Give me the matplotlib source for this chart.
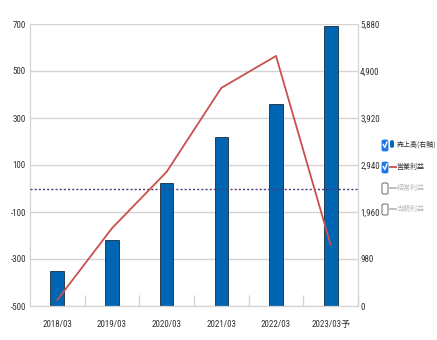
import matplotlib
matplotlib.use('Agg')
import matplotlib.pyplot as plt
from matplotlib.patches import FancyBboxPatch
from matplotlib.lines import Line2D
from matplotlib import font_manager

# Data
years = ['2018/03', '2019/03', '2020/03', '2021/03', '2022/03', '2023/03予']
sales = [740, 1380, 2570, 3520, 4210, 5840]          # 売上高 (right axis)
op_profit = [-474, -169, 71, 428, 564, -240]          # 営業利益 (left axis)

left_ticks = [-500, -300, -100, 100, 300, 500, 700]
right_ticks = [0, 980, 1960, 2940, 3920, 4900, 5880]

legend_items = ['売上高(右軸)', '営業利益', '経常利益', '当期利益']

# look for a narrow font for the numbers
num_font = 'DejaVu Sans'
stretch = 'normal'
for f in font_manager.fontManager.ttflist:
    if f.name in ('Liberation Sans Narrow', 'Roboto Condensed'):
        num_font, stretch = f.name, 'normal'
        break
    if f.name == 'DejaVu Sans' and 'ondensed' in str(f.stretch) + f.fname:
        stretch = 'condensed'

plt.rcParams['font.family'] = [num_font, 'Noto Sans CJK JP', 'DejaVu Sans']
plt.rcParams['font.stretch'] = stretch
plt.rcParams['axes.unicode_minus'] = False

bar_color = '#0066b3'
line_color = '#c9504f'
grid_color = '#d4d4d4'
text_color = '#333333'

fig = plt.figure(figsize=(4.37, 3.40), dpi=100)
ax = fig.add_axes([30 / 437, 34 / 340, 328 / 437, 282 / 340])
ax2 = ax.twinx()

x = list(range(len(years)))

# bars on right axis
ax2.bar(x, sales, width=0.25, color=bar_color, edgecolor='#1a2a3a', linewidth=0.6, zorder=2)
ax2.set_ylim(0, 5880)
ax2.set_yticks(right_ticks)
ax2.set_yticklabels([f'{v:,}' for v in right_ticks])

# left axis: zero line, profit line
ax.set_ylim(-500, 700)
ax.set_yticks(left_ticks)
ax.set_xlim(-0.5, len(years) - 0.5)
ax.set_xticks(x)
ax.set_xticklabels(years)
ax.set_xticks([i + 0.5 for i in range(len(years))], minor=True)

ax.set_zorder(ax2.get_zorder() + 1)
ax.patch.set_visible(False)

# grid lines behind the bars
for v in left_ticks:
    ax2.axhline((v + 500) / 1200 * 5880, color=grid_color, linewidth=1, zorder=0)

ax.axhline(0, color='#4b3b7a', linestyle=(0, (1.5, 1.5)), linewidth=1.0, zorder=3)
ax.plot(x, op_profit, color=line_color, linewidth=1.3, zorder=4)

for a in (ax, ax2):
    for s in a.spines.values():
        s.set_color(grid_color)
    a.spines['top'].set_visible(False)
    a.tick_params(axis='y', length=0, labelsize=6.5, colors=text_color)

ax.tick_params(axis='y', pad=3)
ax2.tick_params(axis='y', pad=1.5)
ax.tick_params(axis='x', which='major', length=0, labelsize=6.5, colors=text_color, pad=10)
ax.tick_params(axis='x', which='minor', length=8, direction='in', color=grid_color, width=1)

# legend with check boxes
ys = [145, 167, 188, 209]
checked = [True, True, False, False]
colors = [bar_color, line_color, '#bbbbbb', '#bbbbbb']
W, H = 437, 340
for i, (label, y) in enumerate(zip(legend_items, ys)):
    fy = 1 - y / H
    if checked[i]:
        fig.patches.append(FancyBboxPatch((382 / W, fy - 6 / H), 6 / W, 11 / H,
                                          boxstyle='round,pad=0,rounding_size=0.004',
                                          transform=fig.transFigure, facecolor='#1f77e8',
                                          edgecolor='#1f77e8', linewidth=0.6))
        fig.lines.append(Line2D([383.2 / W, 384.8 / W, 387 / W],
                                [fy + 0.5 / H, fy - 2.5 / H, fy + 3 / H],
                                transform=fig.transFigure, color='white', linewidth=1.0))
    else:
        fig.patches.append(FancyBboxPatch((382 / W, fy - 6 / H), 6 / W, 11 / H,
                                          boxstyle='round,pad=0,rounding_size=0.004',
                                          transform=fig.transFigure, facecolor='white',
                                          edgecolor='#666666', linewidth=0.7))
    if i == 0:
        fig.patches.append(FancyBboxPatch((390 / W, fy - 3 / H), 4 / W, 8 / H,
                                          boxstyle='round,pad=0,rounding_size=0.006',
                                          transform=fig.transFigure, facecolor=bar_color,
                                          edgecolor='none'))
    else:
        fig.lines.append(Line2D([389.5 / W, 395.5 / W], [fy, fy], transform=fig.transFigure,
                                color=colors[i], linewidth=1.3))
    fig.text(396.5 / W, fy, label, fontsize=5, va='center', ha='left',
             color=text_color if checked[i] else '#bbbbbb',
             family=['Noto Sans CJK JP', 'DejaVu Sans'])

fig.savefig('out.png', dpi=100)
